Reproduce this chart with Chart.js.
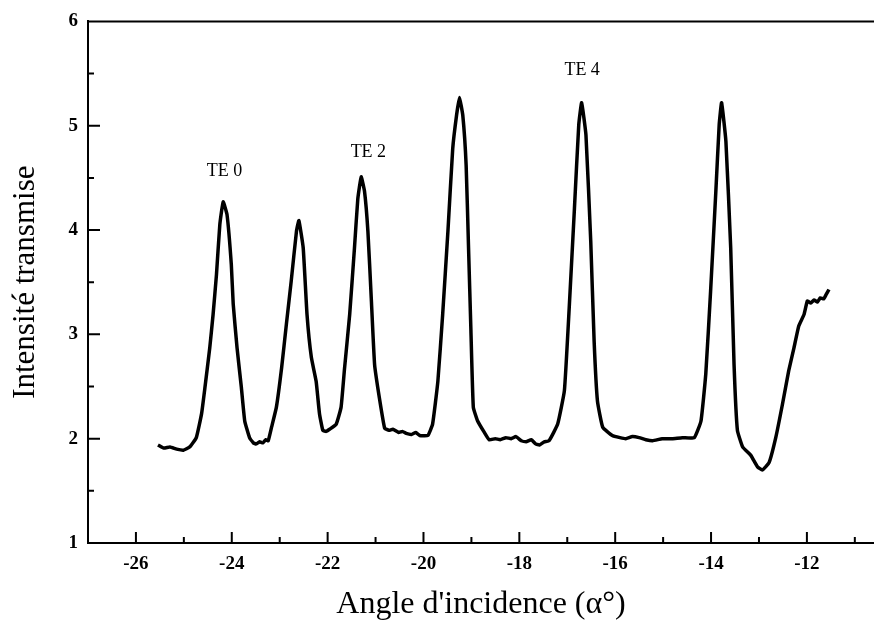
<!DOCTYPE html>
<html>
<head>
<meta charset="utf-8">
<script src="https://cdn.jsdelivr.net/npm/chart.js@4.4.1/dist/chart.umd.min.js"></script>
<style>
  html, body { margin: 0; padding: 0; background: #fff; }
  #wrap { width: 874px; height: 630px; }
</style>
</head>
<body>
<div id="wrap"><canvas id="spectre" width="874" height="630"></canvas></div>
<script>
// angle d'incidence (degrés) et intensité transmise
const angle = [
  -25.54, -25.42, -25.29, -25.15, -25.01, -24.88, -24.74, -24.63, -24.56, -24.46, -24.39, -24.32,
  -24.25, -24.18, -24.10, -24.01, -23.97, -23.89, -23.80, -23.73, -23.63, -23.55, -23.49,
  -23.42, -23.35, -23.29, -23.24, -23.17, -23.07, -22.96, -22.86, -22.76, -22.65, -22.60, -22.51,
  -22.43, -22.34, -22.24, -22.17, -22.10, -22.03, -21.96, -21.82, -21.72, -21.65, -21.54,
  -21.44, -21.37, -21.30, -21.23, -21.16, -21.09, -21.02, -20.92, -20.81, -20.72, -20.64,
  -20.52, -20.44, -20.36, -20.25, -20.16, -20.08, -19.91, -19.81, -19.70, -19.60, -19.49, -19.39, -19.31, -19.25,
  -19.18, -19.11, -19.06, -19.01, -18.96, -18.87, -18.73, -18.63, -18.50, -18.40, -18.28, -18.17, -18.07,
  -17.96, -17.86, -17.75, -17.66, -17.58, -17.48, -17.38, -17.20, -17.06, -16.96, -16.85, -16.76, -16.70, -16.61,
  -16.51, -16.44, -16.37, -16.26, -16.06, -15.90, -15.78, -15.64, -15.50, -15.36, -15.22, -15.02, -14.81, -14.60, -14.35,
  -14.21, -14.11, -14.01, -13.90, -13.83, -13.78, -13.69, -13.59, -13.52, -13.45,
  -13.34, -13.17, -13.03, -12.93, -12.79, -12.65, -12.51, -12.38, -12.27, -12.17,
  -12.06, -11.99, -11.92, -11.85, -11.78, -11.72, -11.65, -11.60, -11.54
];
const intensite = [
  1.94, 1.91, 1.92, 1.90, 1.89, 1.92, 2.01, 2.24, 2.49, 2.87, 3.19, 3.57,
  4.05, 4.27, 4.15, 3.67, 3.29, 2.87, 2.49, 2.17, 2.01, 1.96, 1.95,
  1.97, 1.96, 1.99, 1.98, 2.11, 2.30, 2.68, 3.10, 3.51, 3.99, 4.09, 3.83,
  3.19, 2.78, 2.55, 2.24, 2.08, 2.07, 2.09, 2.14, 2.30, 2.66, 3.19,
  3.83, 4.30, 4.51, 4.37, 3.99, 3.35, 2.71, 2.39, 2.10, 2.08, 2.09,
  2.06, 2.07, 2.05, 2.04, 2.06, 2.03, 2.03, 2.14, 2.55, 3.19, 3.99, 4.78, 5.10, 5.27,
  5.10, 4.62, 3.83, 3.03, 2.30, 2.17, 2.06, 1.99, 2.00, 1.99, 2.01, 2.00, 2.02,
  1.98, 1.97, 1.99, 1.95, 1.94, 1.97, 1.98, 2.14, 2.46, 3.25, 4.21, 5.01, 5.22, 4.91,
  3.89, 2.94, 2.36, 2.11, 2.03, 2.01, 2.00, 2.02, 2.01, 1.99, 1.98, 2.00, 2.00, 2.01, 2.01,
  2.17, 2.62, 3.41, 4.37, 5.01, 5.22, 4.85, 3.83, 2.71, 2.08,
  1.92, 1.84, 1.73, 1.70, 1.77, 2.01, 2.33, 2.65, 2.87, 3.08,
  3.19, 3.32, 3.30, 3.33, 3.31, 3.35, 3.34, 3.38, 3.43
];

const xTicks = [-26, -24, -22, -20, -18, -16, -14, -12];
const yTicks = [1, 2, 3, 4, 5, 6];

const modeNames = ['TE 0', 'TE 2', 'TE 4'];
const modeAngle = [-24.15, -21.15, -16.69];
const modeLevel = [4.56, 4.75, 5.53];

const serif = "'Liberation Serif', 'Times New Roman', serif";

// cadre du haut + graduations vers l'intérieur
const frame = {
  id: 'frame',
  afterDraw(chart) {
    const { ctx, chartArea: a, scales: { x, y } } = chart;
    ctx.save();
    ctx.strokeStyle = '#000';
    ctx.lineWidth = 2;
    ctx.beginPath();
    ctx.moveTo(a.left, a.top);
    ctx.lineTo(a.right, a.top);
    xTicks.forEach(v => {
      const px = x.getPixelForValue(v);
      ctx.moveTo(px, a.bottom); ctx.lineTo(px, a.bottom - 11);
      const pm = x.getPixelForValue(v + 1);
      if (pm < a.right) { ctx.moveTo(pm, a.bottom); ctx.lineTo(pm, a.bottom - 6); }
    });
    yTicks.forEach(v => {
      const py = y.getPixelForValue(v);
      ctx.moveTo(a.left, py); ctx.lineTo(a.left + 12, py);
      if (v < 6) {
        const pm = y.getPixelForValue(v + 0.5);
        ctx.moveTo(a.left, pm); ctx.lineTo(a.left + 6, pm);
      }
    });
    ctx.stroke();

    ctx.fillStyle = '#000';
    ctx.font = '18px ' + serif;
    ctx.textAlign = 'center';
    ctx.textBaseline = 'middle';
    modeNames.forEach((t, i) => {
      ctx.fillText(t, x.getPixelForValue(modeAngle[i]), y.getPixelForValue(modeLevel[i]));
    });
    ctx.restore();
  }
};

new Chart(document.getElementById('spectre'), {
  type: 'line',
  data: {
    datasets: [{
      data: angle.map((a, i) => ({ x: a, y: intensite[i] })),
      borderColor: '#000',
      borderWidth: 3.5,
      pointRadius: 0,
      tension: 0.12,
      fill: false
    }]
  },
  options: {
    responsive: false,
    animation: false,
    layout: { padding: { top: 19, right: 0, left: 0, bottom: 0 } },
    plugins: { legend: { display: false }, tooltip: { enabled: false } },
    scales: {
      x: {
        type: 'linear',
        min: -27,
        max: -10.6,
        afterBuildTicks: s => { s.ticks = xTicks.map(v => ({ value: v })); },
        afterFit: s => { s.height = 87; },
        grid: { display: false, drawTicks: false },
        border: { display: true, color: '#000', width: 2 },
        ticks: {
          color: '#000',
          padding: 10,
          font: { family: serif, size: 19, weight: 'bold' }
        },
        title: {
          display: true,
          text: "Angle d'incidence (\u03b1\u00b0)",
          color: '#000',
          padding: { top: 0, bottom: 6 },
          font: { family: serif, size: 32 }
        }
      },
      y: {
        min: 1,
        max: 6,
        afterBuildTicks: s => { s.ticks = yTicks.map(v => ({ value: v })); },
        afterFit: s => { s.width = 88; },
        grid: { display: false, drawTicks: false },
        border: { display: true, color: '#000', width: 2 },
        ticks: {
          color: '#000',
          padding: 10,
          font: { family: serif, size: 19, weight: 'bold' }
        },
        title: {
          display: true,
          text: 'Intensité transmise',
          color: '#000',
          padding: { top: 7, bottom: 0 },
          font: { family: serif, size: 31 }
        }
      }
    }
  },
  plugins: [frame]
});
</script>
</body>
</html>
